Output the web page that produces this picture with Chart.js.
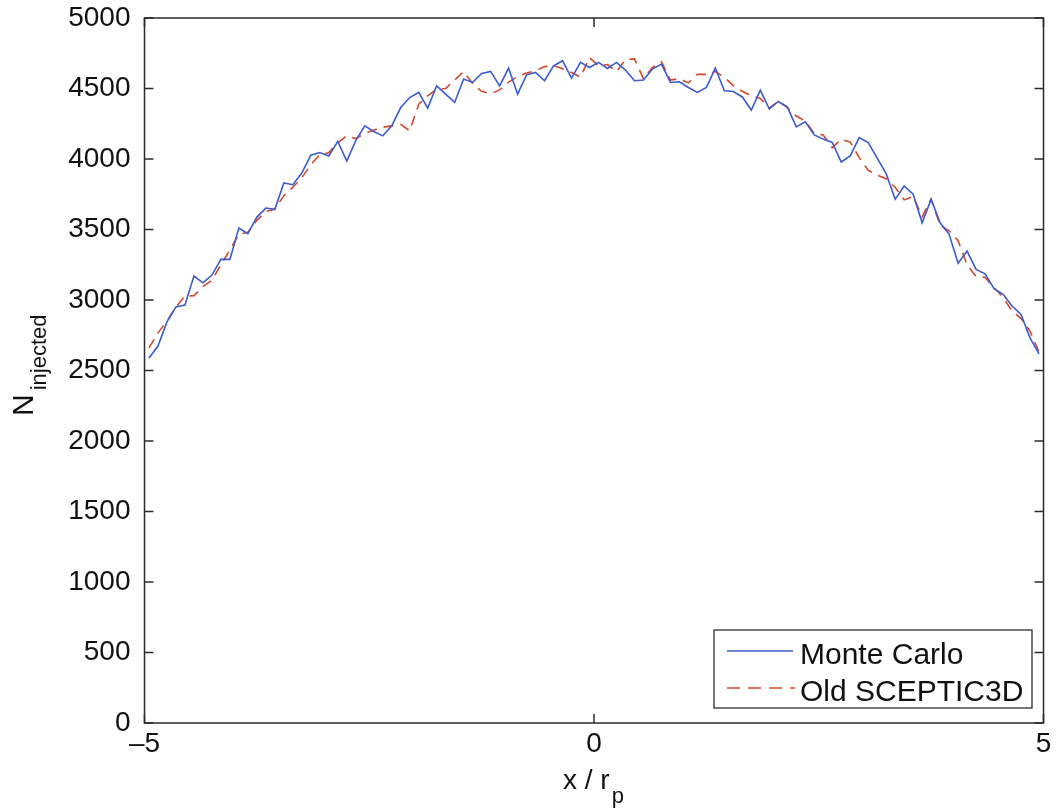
<!DOCTYPE html>
<html>
<head>
<meta charset="utf-8">
<script src="https://cdn.jsdelivr.net/npm/chart.js@4"></script>
<style>
  html, body { margin: 0; padding: 0; background: #fff; }
  #wrap { width: 1057px; height: 808px; }
</style>
</head>
<body>
<div id="wrap"><canvas id="c" width="1057" height="808"></canvas></div>
<script>
const FONT = '"Liberation Sans", Arial, Helvetica, sans-serif';

// x positions (x / r_p) of the bins
const xPositions = [
  -4.95,-4.85,-4.75,-4.65,-4.55,-4.45,-4.35,-4.25,-4.15,-4.05,
  -3.95,-3.85,-3.75,-3.65,-3.55,-3.45,-3.35,-3.25,-3.15,-3.05,
  -2.95,-2.85,-2.75,-2.65,-2.55,-2.45,-2.35,-2.25,-2.15,-2.05,
  -1.95,-1.85,-1.75,-1.65,-1.55,-1.45,-1.35,-1.25,-1.15,-1.05,
  -0.95,-0.85,-0.75,-0.65,-0.55,-0.45,-0.35,-0.25,-0.15,-0.05,
   0.05, 0.15, 0.25, 0.35, 0.45, 0.55, 0.65, 0.75, 0.85, 0.95,
   1.05, 1.15, 1.25, 1.35, 1.45, 1.55, 1.65, 1.75, 1.85, 1.95,
   2.05, 2.15, 2.25, 2.35, 2.45, 2.55, 2.65, 2.75, 2.85, 2.95,
   3.05, 3.15, 3.25, 3.35, 3.45, 3.55, 3.65, 3.75, 3.85, 3.95,
   4.05, 4.15, 4.25, 4.35, 4.45, 4.55, 4.65, 4.75, 4.85, 4.95
];

// Monte Carlo (solid blue)
const monteCarlo = [
  2589,2673,2845,2951,2964,3170,3122,3177,3288,3288,
  3510,3470,3588,3652,3643,3830,3818,3900,4027,4046,
  4021,4125,3986,4130,4235,4195,4164,4235,4365,4436,
  4472,4361,4519,4460,4401,4567,4543,4607,4621,4519,
  4645,4460,4597,4614,4555,4661,4697,4574,4685,4649,
  4685,4642,4685,4631,4555,4560,4638,4673,4543,4548,
  4507,4472,4507,4645,4484,4479,4440,4347,4489,4354,
  4408,4370,4228,4263,4171,4141,4117,3979,4022,4152,
  4117,4006,3896,3714,3809,3750,3548,3714,3548,3466,
  3260,3347,3217,3186,3080,3040,2957,2898,2732,2618
];

// Old SCEPTIC3D (dashed red)
const oldSceptic = [
  2660,2767,2850,2950,3028,3030,3095,3140,3250,3355,
  3466,3480,3565,3628,3643,3740,3800,3867,3960,4030,
  4045,4114,4165,4145,4180,4205,4225,4235,4245,4200,
  4389,4448,4496,4500,4560,4620,4535,4480,4462,4490,
  4545,4585,4610,4625,4655,4661,4640,4614,4580,4720,
  4660,4670,4620,4705,4710,4570,4650,4690,4560,4570,
  4540,4600,4600,4620,4580,4520,4480,4448,4430,4360,
  4410,4365,4305,4270,4180,4170,4080,4140,4120,4010,
  3920,3885,3860,3800,3710,3735,3590,3716,3530,3490,
  3420,3250,3166,3160,3087,3020,2920,2870,2780,2630
];

const xTicks = [-5, 0, 5];
const yTicks = [0,500,1000,1500,2000,2500,3000,3500,4000,4500,5000];
const seriesNames = ['Monte Carlo', 'Old SCEPTIC3D'];

const BLUE = '#3b5bcf';
const RED = '#d5472c';
const AXIS = '#2b2b2b';
const TEXT = '#111111';

function toPoints(xs, ys) { return xs.map((x, i) => ({ x: x, y: ys[i] })); }

const framePlugin = {
  id: 'frame',
  afterDatasetsDraw(chart) {
    const { ctx, chartArea: a, scales } = chart;
    ctx.save();
    ctx.strokeStyle = AXIS;
    ctx.lineWidth = 1.5;
    ctx.strokeRect(a.left, a.top, a.right - a.left, a.bottom - a.top);
    const tl = 9;
    ctx.beginPath();
    yTicks.forEach(v => {
      const p = scales.y.getPixelForValue(v);
      ctx.moveTo(a.left, p); ctx.lineTo(a.left + tl, p);
      ctx.moveTo(a.right, p); ctx.lineTo(a.right - tl, p);
    });
    xTicks.forEach(v => {
      const p = scales.x.getPixelForValue(v);
      ctx.moveTo(p, a.bottom); ctx.lineTo(p, a.bottom - tl);
      ctx.moveTo(p, a.top); ctx.lineTo(p, a.top + tl);
    });
    ctx.stroke();

    // Legend box
    const lx = 714, ly = 630, lw = 318, lh = 78;
    ctx.fillStyle = '#fff';
    ctx.fillRect(lx, ly, lw, lh);
    ctx.lineWidth = 1.3;
    ctx.strokeStyle = AXIS;
    ctx.strokeRect(lx, ly, lw, lh);
    ctx.lineWidth = 1.3;
    ctx.strokeStyle = BLUE;
    ctx.beginPath(); ctx.moveTo(727, 651); ctx.lineTo(793, 651); ctx.stroke();
    ctx.strokeStyle = RED;
    ctx.setLineDash([13, 8]);
    ctx.beginPath(); ctx.moveTo(727, 688); ctx.lineTo(795, 688); ctx.stroke();
    ctx.setLineDash([]);
    ctx.fillStyle = TEXT;
    ctx.font = '30px ' + FONT;
    ctx.textAlign = 'left';
    ctx.textBaseline = 'alphabetic';
    ctx.fillText(seriesNames[0], 800, 664);
    ctx.fillText(seriesNames[1], 800, 701);

    // Axis titles
    ctx.font = '28px ' + FONT;
    ctx.fillText('x / r', 563, 789);
    const w = ctx.measureText('x / r').width;
    ctx.font = '22px ' + FONT;
    ctx.fillText('p', 563 + w + 2, 803);

    ctx.save();
    ctx.translate(33, 416);
    ctx.rotate(-Math.PI / 2);
    ctx.font = '30px ' + FONT;
    ctx.fillText('N', 0, 0);
    const wn = ctx.measureText('N').width;
    ctx.font = '22px ' + FONT;
    ctx.fillText('injected', wn + 4, 13);
    ctx.restore();
    ctx.restore();
  }
};

function noPad(s) {
  s.paddingTop = 0; s.paddingBottom = 0; s.paddingLeft = 0; s.paddingRight = 0;
}

new Chart(document.getElementById('c'), {
  type: 'line',
  data: {
    datasets: [
      {
        label: seriesNames[0],
        data: toPoints(xPositions, monteCarlo),
        borderColor: BLUE,
        borderWidth: 1.6,
        pointRadius: 0,
        tension: 0,
        fill: false
      },
      {
        label: seriesNames[1],
        data: toPoints(xPositions, oldSceptic),
        borderColor: RED,
        borderWidth: 1.6,
        borderDash: [10, 7],
        pointRadius: 0,
        tension: 0,
        fill: false
      }
    ]
  },
  options: {
    responsive: false,
    devicePixelRatio: 1,
    animation: false,
    layout: { autoPadding: false, padding: { left: 0, right: 13.5, top: 18, bottom: 0 } },
    plugins: { legend: { display: false }, tooltip: { enabled: false }, title: { display: false } },
    scales: {
      x: {
        type: 'linear',
        min: -5, max: 5,
        afterBuildTicks: s => { s.ticks = xTicks.map(v => ({ value: v })); },
        afterFit: s => { s.height = 85; noPad(s); },
        grid: { display: false, drawTicks: false },
        border: { display: false },
        ticks: {
          font: { family: FONT, size: 28 },
          color: TEXT,
          padding: 4,
          maxRotation: 0,
          autoSkip: false,
          callback: v => (v < 0 ? '\u2013' + Math.abs(v) : String(v))
        }
      },
      y: {
        min: 0, max: 5000,
        afterBuildTicks: s => { s.ticks = yTicks.map(v => ({ value: v })); },
        afterFit: s => { s.width = 144.5; noPad(s); },
        grid: { display: false, drawTicks: false },
        border: { display: false },
        ticks: {
          font: { family: FONT, size: 28 },
          color: TEXT,
          padding: 14,
          autoSkip: false,
          callback: v => String(v)
        }
      }
    }
  },
  plugins: [framePlugin]
});
</script>
</body>
</html>
